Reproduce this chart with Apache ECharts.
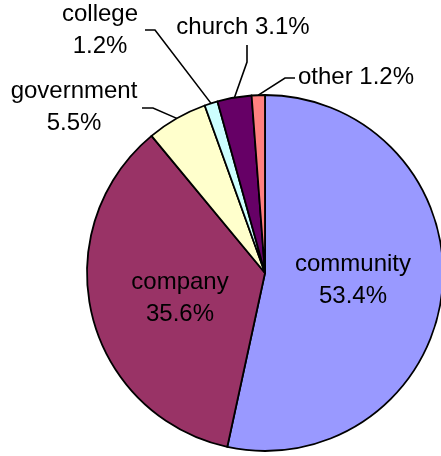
<!DOCTYPE html>
<html>
<head>
<meta charset="utf-8">
<script src="https://cdn.jsdelivr.net/npm/echarts@6/dist/echarts.min.js"></script>
<style>html,body{margin:0;padding:0;background:#fff}#c{width:441px;height:456px}</style>
</head>
<body>
<div id="c"></div>
<script>
const categories = ['community', 'company', 'government', 'college', 'church', 'other'];
const values = [53.4, 35.6, 5.5, 1.2, 3.1, 1.2];
const colors = ['#9999FF', '#993366', '#FFFFCC', '#CCFFFF', '#660066', '#FF8080'];

// label placement (layout only)
const labelPos = {
  community: { x: 353, y: 280, inside: true },
  company: { x: 180, y: 298, inside: true },
  government: { x: 74, y: 107, elbow: [[153, 108], [142, 108]], text: '{b}\n{c}%' },
  college: { x: 100, y: 30, elbow: [[155, 30], [145, 30]], text: '{b}\n{c}%' },
  church: { x: 243, y: 27, elbow: [[247, 62], [247, 45]], text: '{b} {c}%' },
  other: { x: 356, y: 77, elbow: [[285, 78], [295, 78]], text: '{b} {c}%' }
};

const chart = echarts.init(document.getElementById('c'));
chart.setOption({
  animation: false,
  series: [{
    type: 'pie',
    center: [265, 273],
    radius: 178,
    startAngle: 90,
    clockwise: true,
    avoidLabelOverlap: false,
    itemStyle: { borderColor: '#000', borderWidth: 1.8 },
    label: {
      fontFamily: 'Liberation Sans',
      fontSize: 24,
      lineHeight: 32,
      color: '#000'
    },
    labelLine: { show: true, lineStyle: { color: '#000', width: 1.6 }, length: 10, length2: 10 },
    data: categories.map((name, i) => {
      const p = labelPos[name];
      return {
        name,
        value: values[i],
        itemStyle: { color: colors[i] },
        label: p.inside
          ? { position: 'inside', formatter: '{b}\n{c}%', align: 'center' }
          : { position: 'outside', formatter: p.text, align: 'center' },
        labelLine: { show: !p.inside }
      };
    }),
    labelLayout: function (params) {
      const name = categories[params.dataIndex];
      const p = labelPos[name];
      const res = { x: p.x, y: p.y, align: 'center', verticalAlign: 'middle' };
      if (!p.inside && params.labelLinePoints) {
        const start = params.labelLinePoints[0];
        res.labelLinePoints = [start].concat(p.elbow);
      }
      return res;
    }
  }]
});
</script>
</body>
</html>
